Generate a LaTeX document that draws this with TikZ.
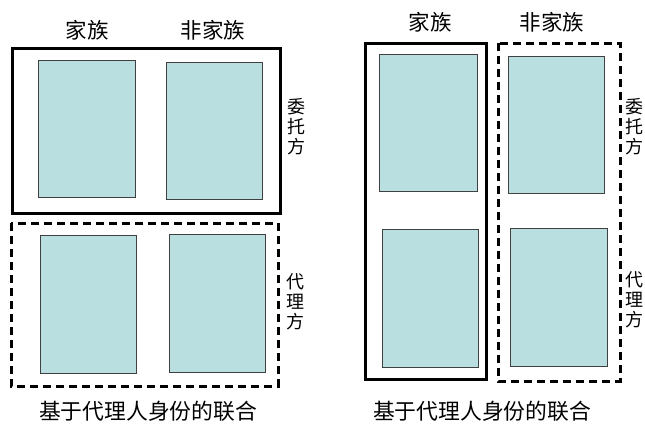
\documentclass[tikz,border=0pt]{standalone}
\usepackage{fontspec}
\setmainfont{Noto Sans CJK SC}
\begin{document}
\begin{tikzpicture}[x=1pt,y=-1pt,
  solidframe/.style={draw=black,line width=3pt},
  dashframe/.style={draw=black,line width=3pt,dash pattern=on 8pt off 5pt},
  cell/.style={draw=black!75,line width=1pt,fill=cellfill},
  lab/.style={font=\fontsize{21.5}{22}\selectfont,inner sep=0pt},
  captext/.style={font=\fontsize{21.8}{22}\selectfont,inner sep=0pt},
  vlab/.style={font=\fontsize{18}{20}\selectfont,inner sep=0pt,align=center}]
\definecolor{cellfill}{HTML}{B9DFE1}
\useasboundingbox (0,0) rectangle (645,423);
% ---- left panel ----
\draw[solidframe] (12,48) rectangle (280,213);
\draw[cell] (38,60) rectangle (135,197);
\draw[cell] (166,62) rectangle (262,199);
\draw[dashframe] (11,223) rectangle (278,386);
\draw[cell] (40,235) rectangle (136,373);
\draw[cell] (169,234) rectangle (265,372);
\node[lab] (lf) at (87,30) {家族};
\node[lab] (lnf) at (213,30) {非家族};
\node[vlab] (lw) at (296,127) {委\\托\\方};
\node[vlab] (ld) at (295,302) {代\\理\\方};
\node[captext] (lc) at (148,411) {基于代理人身份的联合};
% ---- right panel ----
\draw[solidframe] (365,43) rectangle (486,379);
\draw[cell] (379,54) rectangle (477,191);
\draw[cell] (382,229) rectangle (478,367);
\draw[dashframe] (498,43) rectangle (620,381);
\draw[cell] (508,56) rectangle (604,193);
\draw[cell] (510,228) rectangle (607,366);
\node[lab] (rf) at (430,22) {家族};
\node[lab] (rnf) at (552,22) {非家族};
\node[vlab] (rw) at (634,127) {委\\托\\方};
\node[vlab] (rd) at (634,300) {代\\理\\方};
\node[captext] (rc) at (482,411) {基于代理人身份的联合};
\end{tikzpicture}
\end{document}
